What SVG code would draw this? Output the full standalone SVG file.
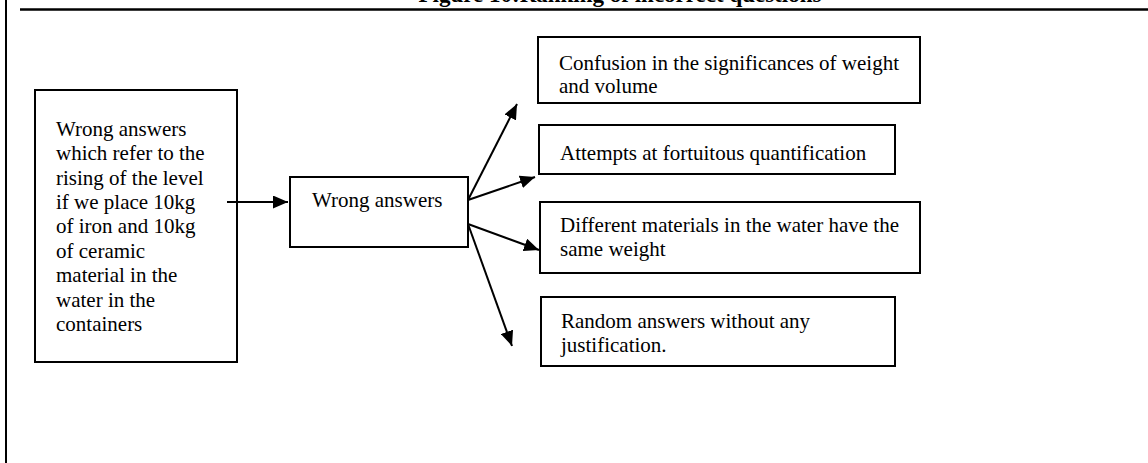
<svg xmlns="http://www.w3.org/2000/svg" width="1148" height="463" viewBox="0 0 1148 463">
<style>
.box{fill:#fff;stroke:#000;stroke-width:2}
.t{font-family:"Liberation Serif","Times New Roman",serif;font-size:21px;fill:#000}
.title{font-family:"Liberation Serif","Times New Roman",serif;font-size:23px;font-weight:bold;fill:#000}
.c{stroke:#000;stroke-width:2;fill:none}
</style>
<defs>
<marker id="ah" markerUnits="userSpaceOnUse" markerWidth="16" markerHeight="13" refX="15" refY="6.5" orient="auto">
<path d="M0,0 L15,6.5 L0,13 z" fill="#000"/>
</marker>
</defs>
<rect width="1148" height="463" fill="#fff"/>
<g id="frame">
<line x1="6" y1="0" x2="6" y2="463" stroke="#000" stroke-width="2"/>
<line x1="20" y1="9.5" x2="1148" y2="9.5" stroke="#000" stroke-width="2.5"/>
<text class="title" x="620" y="2" text-anchor="middle">Figure 10:Ranking of incorrect questions</text>
</g>
<g id="source">
<rect class="box" x="35" y="90" width="202" height="272"/>
<text class="t" x="56" y="136">Wrong answers</text>
<text class="t" x="56" y="160">which refer to the</text>
<text class="t" x="56" y="185">rising of the level</text>
<text class="t" x="56" y="209">if we place 10kg</text>
<text class="t" x="56" y="233">of iron and 10kg</text>
<text class="t" x="56" y="258">of ceramic</text>
<text class="t" x="56" y="282">material in the</text>
<text class="t" x="56" y="307">water in the</text>
<text class="t" x="56" y="331">containers</text>
</g>
<g id="wrong">
<rect class="box" x="290" y="177" width="178" height="70"/>
<text class="t" x="312" y="207">Wrong answers</text>
</g>
<g id="confusion">
<rect class="box" x="538" y="37" width="382" height="66"/>
<text class="t" x="559" y="70">Confusion in the significances of weight</text>
<text class="t" x="559" y="93">and volume</text>
</g>
<g id="attempts">
<rect class="box" x="539" y="125" width="356" height="49"/>
<text class="t" x="560" y="160">Attempts at fortuitous quantification</text>
</g>
<g id="different">
<rect class="box" x="540" y="202" width="380" height="71"/>
<text class="t" x="560" y="232">Different materials in the water have the</text>
<text class="t" x="560" y="256">same weight</text>
</g>
<g id="random">
<rect class="box" x="541" y="297" width="354" height="69"/>
<text class="t" x="561" y="328">Random answers without any</text>
<text class="t" x="561" y="352">justification.</text>
</g>
<g id="connectors">
<line class="c" x1="227" y1="202" x2="288" y2="202" marker-end="url(#ah)"/>
<line class="c" x1="468" y1="200" x2="517" y2="104" marker-end="url(#ah)"/>
<line class="c" x1="468" y1="200" x2="535" y2="177" marker-end="url(#ah)"/>
<line class="c" x1="468" y1="224" x2="539" y2="250" marker-end="url(#ah)"/>
<line class="c" x1="468" y1="224" x2="512" y2="346" marker-end="url(#ah)"/>
</g>
</svg>
